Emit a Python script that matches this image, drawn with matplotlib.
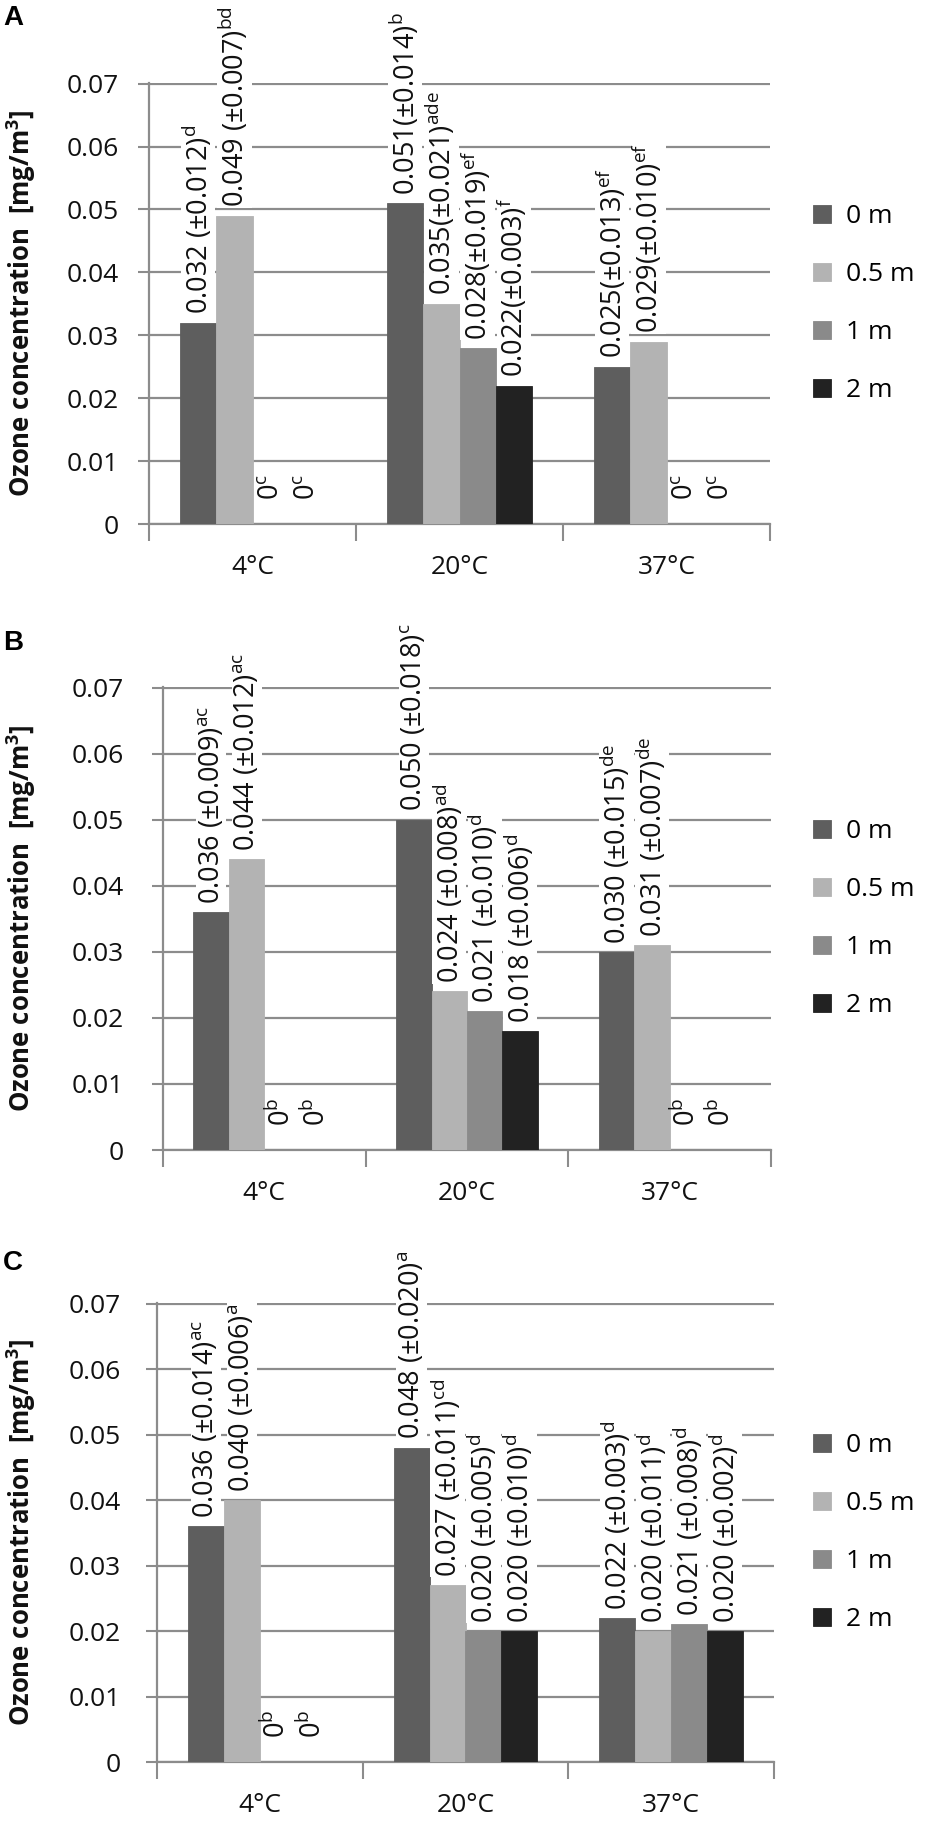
import matplotlib
matplotlib.use("Agg")
import matplotlib.pyplot as plt
from matplotlib.ticker import FixedLocator, NullFormatter
import numpy as np

plt.rcParams['font.family'] = ['Open Sans', 'DejaVu Sans']
plt.rcParams['mathtext.fontset'] = 'custom'
plt.rcParams['mathtext.rm'] = 'Open Sans'
plt.rcParams['mathtext.it'] = 'Open Sans:italic'
plt.rcParams['mathtext.bf'] = 'Open Sans:bold'

# ---------------- data ----------------
temps = ["4°C", "20°C", "37°C"]
depths = ["0 m", "0.5 m", "1 m", "2 m"]
colors = ["#5e5e5e", "#b3b3b3", "#8a8a8a", "#222222"]

# mean ozone concentration [mg/m3]; rows = temperature, columns = depth
values_A = [[0.032, 0.049, 0.0, 0.0],
            [0.051, 0.035, 0.028, 0.022],
            [0.025, 0.029, 0.0, 0.0]]
values_B = [[0.036, 0.044, 0.0, 0.0],
            [0.050, 0.024, 0.021, 0.018],
            [0.030, 0.031, 0.0, 0.0]]
values_C = [[0.036, 0.040, 0.0, 0.0],
            [0.048, 0.027, 0.020, 0.020],
            [0.022, 0.020, 0.021, 0.020]]

# standard deviations (None = no SD shown)
sd_A = [["0.012", "0.007", None, None],
        ["0.014", "0.021", "0.019", "0.003"],
        ["0.013", "0.010", None, None]]
sd_B = [["0.009", "0.012", None, None],
        ["0.018", "0.008", "0.010", "0.006"],
        ["0.015", "0.007", None, None]]
sd_C = [["0.014", "0.006", None, None],
        ["0.020", "0.011", "0.005", "0.010"],
        ["0.003", "0.011", "0.008", "0.002"]]

# significance letters
letters_A = [["d", "bd", "c", "c"],
             ["b", "ade", "ef", "f"],
             ["ef", "ef", "c", "c"]]
letters_B = [["ac", "ac", "b", "b"],
             ["c", "ad", "d", "d"],
             ["de", "de", "b", "b"]]
letters_C = [["ac", "a", "b", "b"],
             ["a", "cd", "d", "d"],
             ["d", "d", "d", "d"]]

# separator between mean and "(" per temperature group
sep_A = [" ", "", ""]
sep_B = [" ", " ", " "]
sep_C = [" ", " ", " "]

panels = [
    ("A", values_A, sd_A, letters_A, sep_A),
    ("B", values_B, sd_B, letters_B, sep_B),
    ("C", values_C, sd_C, letters_C, sep_C),
]

yticks = [0, 0.01, 0.02, 0.03, 0.04, 0.05, 0.06, 0.07]
ytick_labels = ["0", "0.01", "0.02", "0.03", "0.04", "0.05", "0.06", "0.07"]

# ---------------- layout ----------------
W, H = 950, 1834
fig = plt.figure(figsize=(W / 100, H / 100), dpi=100)

# (left, right, top, bottom) in pixels for each panel
panel_px = [(149, 770, 83, 524), (163, 771, 687, 1150), (157, 774, 1303, 1762)]
letter_y = [18, 643, 1263]
ylab_pad = [14, 20, 18]

grid_col = "#8c8c8c"
bar_w = 0.175

for (letter, vals, sds, lets, seps), (pl, pr, ptop, pbot), ly, ypad in zip(
        panels, panel_px, letter_y, ylab_pad):
    ax = fig.add_axes([pl / W, 1 - pbot / H, (pr - pl) / W, (pbot - ptop) / H])
    x = np.arange(len(temps))
    vals = np.array(vals)
    for j, d in enumerate(depths):
        xs = x + (j - 1.5) * bar_w
        ax.bar(xs, vals[:, j], width=bar_w, color=colors[j], edgecolor=colors[j],
               linewidth=0.6, label=d, zorder=3)
        for i in range(len(temps)):
            v = vals[i, j]
            sd = sds[i][j]
            lt = lets[i][j]
            if sd is None:
                txt = r"0$^{\mathrm{%s}}$" % lt
                off = 17
            else:
                txt = r"%.3f%s(±$\mathit{%s}$)$^{\mathrm{%s}}$" % (v, seps[i], sd, lt)
                off = 6
            ax.annotate(txt, xy=(xs[i], v), xytext=(0, off), textcoords="offset points",
                        rotation=90, ha="center", va="bottom", fontsize=19.5,
                        color="#111111", zorder=5,
                        bbox=dict(facecolor="white", edgecolor="none", pad=0.3))

    ax.set_xlim(-0.5, 2.5)
    ax.set_ylim(0, 0.0701)
    ax.set_yticks(yticks)
    ax.set_yticklabels(ytick_labels)
    ax.yaxis.grid(True, color=grid_col, linewidth=1.6, zorder=0)
    ax.set_axisbelow(True)
    ax.tick_params(axis="y", length=8, width=1.5, color=grid_col, labelsize=19,
                   pad=ypad, labelcolor="#111111")
    ax.set_xticks(x)
    ax.set_xticklabels(temps)
    ax.tick_params(axis="x", which="major", length=0, labelsize=19, pad=22,
                   labelcolor="#111111")
    ax.xaxis.set_minor_locator(FixedLocator([-0.5, 0.5, 1.5, 2.5]))
    ax.xaxis.set_minor_formatter(NullFormatter())
    ax.tick_params(axis="x", which="minor", length=12, width=1.5, color=grid_col)
    for s in ["top", "right"]:
        ax.spines[s].set_visible(False)
    for s in ["left", "bottom"]:
        ax.spines[s].set_color(grid_col)
        ax.spines[s].set_linewidth(1.6)

    anchor_x = (813 - pl) / (pr - pl)
    ax.legend(loc="center left", bbox_to_anchor=(anchor_x, 0.5), frameon=False,
              fontsize=19, handlelength=0.7, handleheight=0.7,
              labelspacing=1.25, handletextpad=0.55, borderpad=0, borderaxespad=0)

    fig.text(21 / W, 1 - ((ptop + pbot) / 2) / H,
             r"Ozone concentration  [mg/m$^{\mathbf{3}}$]",
             rotation=90, ha="center", va="center", fontsize=18.5, fontweight="bold",
             color="#111111")
    fig.text(3 / W, 1 - ly / H, letter, ha="left", va="center", fontsize=20,
             fontweight="bold", family=["Liberation Sans", "DejaVu Sans"])

fig.savefig("out.png", dpi=100, facecolor="white")
